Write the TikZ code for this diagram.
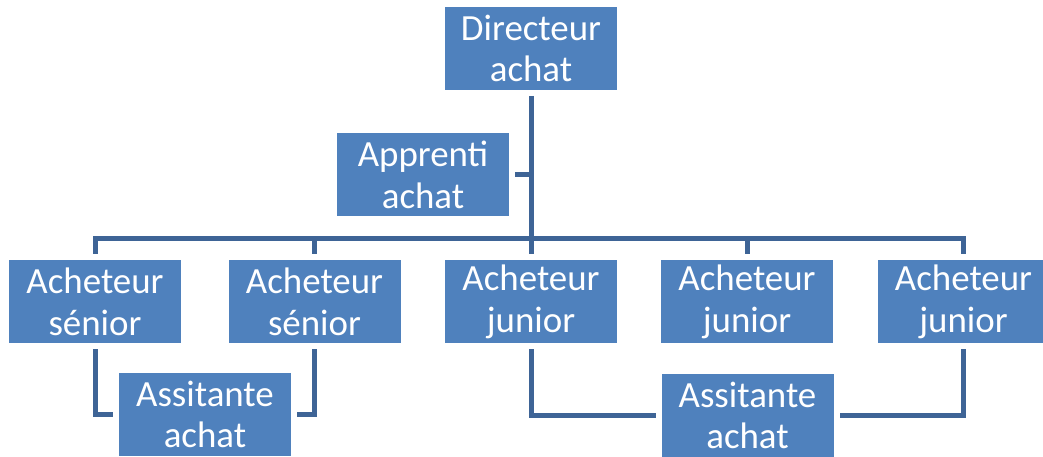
\documentclass[tikz,border=0pt]{standalone}
\usepackage{fontspec}
\setmainfont{Carlito}
\usetikzlibrary{positioning}

\definecolor{boite}{RGB}{79,129,189}
\definecolor{trait}{RGB}{62,100,150}

\tikzset{
    poste/.style={fill=boite, text=white, minimum width=1.72cm, minimum height=0.83cm,
        inner sep=0pt, outer sep=0.06cm, align=center,
        font=\fontsize{10.5}{11.9}\selectfont},
    lien/.style={draw=trait, line width=0.05cm}
}

\begin{document}
\begin{tikzpicture}
    \useasboundingbox (0, 0) rectangle (10.43, 4.57);

    \node[poste] (D) at (5.31, 4.085) {Directeur\\achat};
    \node[poste] (A) at (4.23, 2.82) {Apprenti\\achat};

    \node[poste] (S1) at (0.95, 1.55) {Acheteur\\sénior};
    \node[poste] (S2) at (3.145, 1.55) {Acheteur\\sénior};
    \node[poste] (J1) at (5.31, 1.55) {Acheteur\\junior};
    \node[poste] (J2) at (7.47, 1.55) {Acheteur\\junior};
    \node[poste] (J3) at (9.635, 1.55) {Acheteur\\junior};

    \node[poste] (AS1) at (2.05, 0.425) {Assitante\\achat};
    \node[poste] (AS2) at (7.475, 0.415) {Assitante\\achat};

    \coordinate (bar) at (5.31, 2.18);

    \draw[lien] (D.south) -- (bar);
    \draw[lien] (A.east) -- (A.east -| D.south);
    \draw[lien] (bar) -| (S1.north);
    \draw[lien] (bar) -| (S2.north);
    \draw[lien] (bar) -- (J1.north);
    \draw[lien] (bar) -| (J2.north);
    \draw[lien] (bar) -| (J3.north);

    \draw[lien] (S1.south) |- (AS1.west);
    \draw[lien] (S2.south) |- (AS1.east);
    \draw[lien] (J1.south) |- (AS2.west);
    \draw[lien] (J3.south) |- (AS2.east);
\end{tikzpicture}
\end{document}
